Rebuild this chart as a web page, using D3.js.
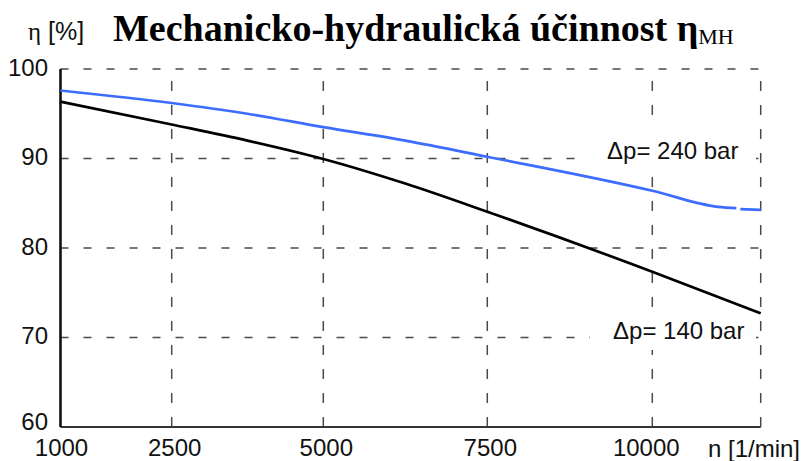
<!DOCTYPE html>
<html>
<head>
<meta charset="utf-8">
<script src="https://cdn.jsdelivr.net/npm/d3@7"></script>
<style>
  html, body { margin: 0; padding: 0; background: #ffffff; }
  svg { display: block; }
</style>
</head>
<body>
<svg id="chart" width="803" height="461"></svg>
<script>
// speed axis breaks (the scanned axis is not evenly spaced)
const xBreaks = [1000, 2500, 5000, 7500, 10000, 11650];
const xTicks = [1000, 2500, 5000, 7500, 10000];
const yTicks = [60, 70, 80, 90, 100];

// dp = 240 bar (blue), null = small gap in the line
const n240   = [1000, 2500, 3750, 5000, 6250, 7500, 10000, 11000, 11280, 11310, 11340, 11650];
const eta240 = [97.6, 96.2, 95.0, 93.5, 92.0, 90.2, 86.4, 84.6, 84.45, null, 84.35, 84.25];

// dp = 140 bar (black)
const n140   = [1000, 2500, 3750, 5000, 6250, 7500, 10000, 11650];
const eta140 = [96.35, 93.8, 92.0, 89.95, 87.2, 84.05, 77.35, 72.7];

const svg = d3.select("#chart");

const x = d3.scaleLinear()
  .domain(xBreaks)
  .range([60.5, 171.7, 323.3, 487.3, 652.3, 760.7]);

const y = d3.scaleLinear()
  .domain([60, 100])
  .range([427, 69]);

const gridColor = "#4a4a4a";
const labelFont = "'Liberation Sans', Arial, sans-serif";

// horizontal dashed grid
svg.append("g")
  .selectAll("line")
  .data(yTicks.slice(1))
  .enter()
  .append("line")
  .attr("x1", x(1000))
  .attr("x2", x(11650))
  .attr("y1", d => y(d))
  .attr("y2", d => y(d))
  .attr("stroke", gridColor)
  .attr("stroke-width", 1.5)
  .attr("stroke-dasharray", "8,15");

// vertical dashed grid, drawn from bottom up
svg.append("g")
  .selectAll("line")
  .data(xBreaks.slice(1))
  .enter()
  .append("line")
  .attr("x1", d => x(d))
  .attr("x2", d => x(d))
  .attr("y1", y(60))
  .attr("y2", y(100))
  .attr("stroke", gridColor)
  .attr("stroke-width", 1.5)
  .attr("stroke-dasharray", "10,14");

// white boxes behind the series labels (they cut the grid)
svg.append("rect")
  .attr("x", 582).attr("y", 129)
  .attr("width", 174).attr("height", 47)
  .attr("fill", "#fff");

svg.append("rect")
  .attr("x", 590).attr("y", 316)
  .attr("width", 166).attr("height", 34)
  .attr("fill", "#fff");

// bottom axis line
svg.append("line")
  .attr("x1", x(1000))
  .attr("x2", x(11650))
  .attr("y1", y(60))
  .attr("y2", y(60))
  .attr("stroke", "#333")
  .attr("stroke-width", 1.8);

// left axis line
svg.append("line")
  .attr("x1", x(1000))
  .attr("x2", x(1000))
  .attr("y1", y(100))
  .attr("y2", y(60))
  .attr("stroke", "#111")
  .attr("stroke-width", 2.6);

// curves
function makeSeries(ns, vals) {
  return ns.map((n, i) => ({ n: n, v: vals[i] }));
}

const line = d3.line()
  .defined(d => d.v !== null)
  .x(d => x(d.n))
  .y(d => y(d.v))
  .curve(d3.curveMonotoneX);

svg.append("path")
  .datum(makeSeries(n140, eta140))
  .attr("d", line)
  .attr("fill", "none")
  .attr("stroke", "#000")
  .attr("stroke-width", 2.7);

svg.append("path")
  .datum(makeSeries(n240, eta240))
  .attr("d", line)
  .attr("fill", "none")
  .attr("stroke", "#3d6dff")
  .attr("stroke-width", 2.7);

// tick labels
svg.append("g")
  .selectAll("text")
  .data(yTicks)
  .enter()
  .append("text")
  .attr("x", 48)
  .attr("y", d => y(d) - (d === 60 ? 5 : 1.5))
  .attr("dy", "0.35em")
  .attr("text-anchor", "end")
  .attr("font-family", labelFont)
  .attr("font-size", 24)
  .attr("fill", "#111")
  .text(d => d);

svg.append("g")
  .selectAll("text")
  .data(xTicks)
  .enter()
  .append("text")
  .attr("x", d => x(d) + (d === 10000 ? -6 : d === 1000 ? 1 : 3))
  .attr("y", 456)
  .attr("text-anchor", "middle")
  .attr("font-family", labelFont)
  .attr("font-size", 24)
  .attr("fill", "#111")
  .text(d => d);

svg.append("text")
  .attr("x", 708)
  .attr("y", 457)
  .attr("font-family", labelFont)
  .attr("font-size", 24)
  .attr("fill", "#111")
  .text("n [1/min]");

const yName = svg.append("text")
  .attr("x", 28)
  .attr("y", 39.5)
  .attr("font-family", labelFont)
  .attr("font-size", 25)
  .attr("fill", "#111");

yName.append("tspan")
  .attr("font-family", "'Liberation Serif', 'Times New Roman', serif")
  .text("η");
yName.append("tspan").text(" [%]");

// title
const title = svg.append("text")
  .attr("x", 113)
  .attr("y", 40.5)
  .attr("font-family", "'Liberation Serif', 'Times New Roman', serif")
  .attr("font-weight", "bold")
  .attr("font-size", 38)
  .attr("fill", "#000");

title.append("tspan").text("Mechanicko-hydraulická účinnost η");
title.append("tspan")
  .attr("font-size", 22)
  .attr("font-weight", "normal")
  .attr("dy", 3)
  .text("MH");

// series labels
svg.append("text")
  .attr("x", 607)
  .attr("y", 159)
  .attr("font-family", labelFont)
  .attr("font-size", 24)
  .attr("fill", "#111")
  .text("Δp= 240 bar");

svg.append("text")
  .attr("x", 613)
  .attr("y", 339)
  .attr("font-family", labelFont)
  .attr("font-size", 24)
  .attr("fill", "#111")
  .text("Δp= 140 bar");
</script>
</body>
</html>
